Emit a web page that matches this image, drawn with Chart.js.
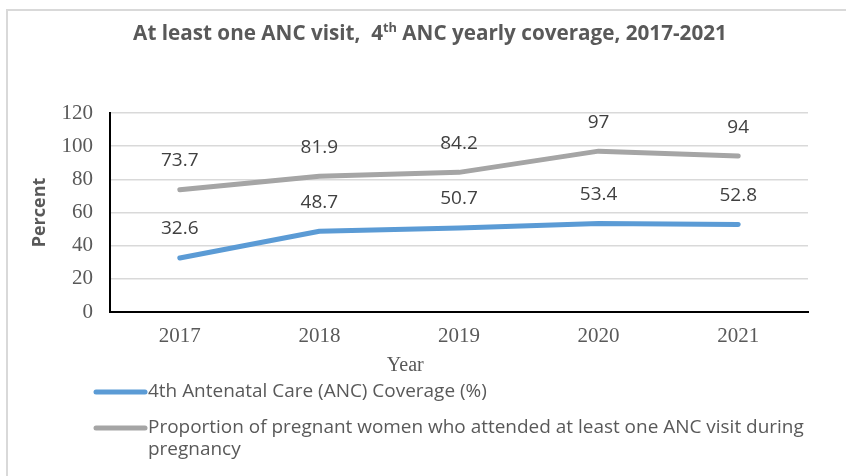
<!DOCTYPE html>
<html><head><meta charset="utf-8">
<script src="https://cdn.jsdelivr.net/npm/chart.js@4"></script>
<style>html,body{margin:0;padding:0;background:#fff}#wrap{width:846px;height:476px;position:relative}</style>
</head><body><div id="wrap"><canvas id="c" width="846" height="476"></canvas></div>
<script>
const years = ['2017', '2018', '2019', '2020', '2021'];
const anc4 = [32.6, 48.7, 50.7, 53.4, 52.8];
const anc1 = [73.7, 81.9, 84.2, 97, 94];
const yMin = 0, yMax = 120, yStep = 20;
const seriesNames = ['4th Antenatal Care (ANC) Coverage (%)',
  'Proportion of pregnant women who attended at least one ANC visit during pregnancy'];
const seriesColors = ['#5B9BD5', '#A5A5A5'];
const titleParts = ['At least one ANC visit,  4', 'th', ' ANC yearly coverage, 2017-2021'];
const xTitle = 'Year';
const yTitle = 'Percent';

const SANS = '"Open Sans", "Noto Sans", sans-serif';
const SERIF = '"Liberation Serif", "DejaVu Serif", serif';
const GREY = '#595959';

const deco = {
  id: 'deco',
  afterDraw(chart) {
    const ctx = chart.ctx;
    const ca = chart.chartArea;
    ctx.save();
    // outer frame (top and left)
    ctx.strokeStyle = '#d9d9d9';
    ctx.lineWidth = 2;
    ctx.beginPath();
    ctx.moveTo(7, 476); ctx.lineTo(7, 10); ctx.lineTo(846, 10);
    ctx.stroke();

    // title with superscript
    let fs = 16;
    const measure = () => {
      ctx.font = 'bold ' + fs + 'px ' + SANS;
      const a = ctx.measureText(titleParts[0]).width + ctx.measureText(titleParts[2]).width;
      ctx.font = 'bold ' + (fs * 0.62) + 'px ' + SANS;
      return a + ctx.measureText(titleParts[1]).width;
    };
    fs = fs * 594 / measure();
    const tw = measure();
    let x = 430 - tw / 2;
    const ty = 40;
    ctx.fillStyle = GREY;
    ctx.textBaseline = 'alphabetic';
    ctx.textAlign = 'left';
    ctx.font = 'bold ' + fs + 'px ' + SANS;
    ctx.fillText(titleParts[0], x, ty);
    x += ctx.measureText(titleParts[0]).width;
    ctx.font = 'bold ' + (fs * 0.62) + 'px ' + SANS;
    ctx.fillText(titleParts[1], x, ty - fs * 0.38);
    x += ctx.measureText(titleParts[1]).width;
    ctx.font = 'bold ' + fs + 'px ' + SANS;
    ctx.fillText(titleParts[2], x, ty);

    // axis titles
    ctx.save();
    ctx.translate(40, (ca.top + ca.bottom) / 2);
    ctx.rotate(-Math.PI / 2);
    ctx.textAlign = 'center';
    ctx.textBaseline = 'middle';
    ctx.font = 'bold 18px ' + SANS;
    ctx.fillText(yTitle, 0, 0);
    ctx.restore();

    ctx.textAlign = 'center';
    ctx.textBaseline = 'middle';
    ctx.font = '20px ' + SERIF;
    ctx.fillText(xTitle, ca.left + (ca.right - ca.left) * 0.423, 366);

    // data labels
    ctx.fillStyle = '#404040';
    ctx.font = '19px ' + SANS;
    chart.data.datasets.forEach((ds, i) => {
      const meta = chart.getDatasetMeta(i);
      meta.data.forEach((pt, j) => {
        ctx.fillText(String(ds.data[j]), pt.x, pt.y - 29);
      });
    });

    // legend
    let lf = 15;
    ctx.font = lf + 'px ' + SANS;
    lf = lf * 339 / ctx.measureText(seriesNames[0]).width;
    ctx.font = lf + 'px ' + SANS;
    ctx.textAlign = 'left';
    ctx.fillStyle = GREY;
    const rows = [392, 428];
    const maxW = 680;
    seriesNames.forEach((name, i) => {
      const y = rows[i];
      ctx.strokeStyle = seriesColors[i];
      ctx.lineWidth = 5;
      ctx.lineCap = 'round';
      ctx.beginPath();
      ctx.moveTo(96, y); ctx.lineTo(145, y);
      ctx.stroke();
      const words = name.split(' ');
      let line = '', ly = y;
      words.forEach(w => {
        const test = line ? line + ' ' + w : w;
        if (ctx.measureText(test).width > maxW && line) {
          ctx.fillText(line, 148, ly);
          line = w; ly += 22;
        } else line = test;
      });
      ctx.fillText(line, 148, ly);
    });
    ctx.restore();
  }
};

new Chart(document.getElementById('c'), {
  type: 'line',
  data: {
    labels: years,
    datasets: [
      { label: seriesNames[0], data: anc4, borderColor: seriesColors[0], backgroundColor: seriesColors[0],
        borderWidth: 5, pointRadius: 0, tension: 0, borderCapStyle: 'round', borderJoinStyle: 'round' },
      { label: seriesNames[1], data: anc1, borderColor: seriesColors[1], backgroundColor: seriesColors[1],
        borderWidth: 5, pointRadius: 0, tension: 0, borderCapStyle: 'round', borderJoinStyle: 'round' }
    ]
  },
  options: {
    responsive: false,
    animation: false,
    devicePixelRatio: 1,
    layout: { padding: { top: 113, right: 38, bottom: 0, left: 0 } },
    plugins: { legend: { display: false }, title: { display: false }, tooltip: { enabled: false } },
    scales: {
      x: {
        type: 'category', offset: true,
        grid: { display: false },
        border: { display: true, color: '#000', width: 2 },
        ticks: { color: GREY, font: { family: SERIF, size: 21 }, padding: 4, maxRotation: 0 },
        afterFit(s) { s.height = 164; }
      },
      y: {
        min: yMin, max: yMax,
        ticks: { stepSize: yStep, color: GREY, font: { family: SERIF, size: 21 }, padding: 17 },
        grid: { color: '#d9d9d9', lineWidth: 1.5, drawTicks: false },
        border: { display: true, color: '#000', width: 2 },
        afterFit(s) { s.width = 110; }
      }
    }
  },
  plugins: [deco]
});
</script></body></html>
